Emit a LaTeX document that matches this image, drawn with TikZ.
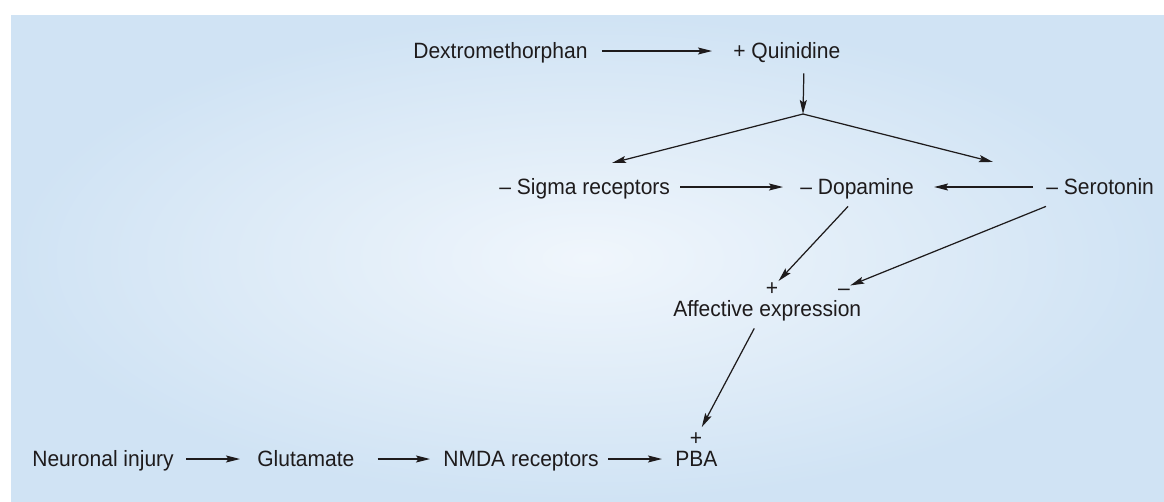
\documentclass[tikz,border=0pt]{standalone}
\usepackage{fontspec}
\setmainfont{Liberation Sans}[FakeStretch=0.95]
\usepackage{tikz}
\usetikzlibrary{arrows.meta, positioning}
\definecolor{mydark}{RGB}{30,27,28}
\definecolor{bgedge}{RGB}{208,227,244}
\definecolor{bgcentre}{RGB}{240,246,252}
\tikzset{
  term/.style={inner sep=0pt, anchor=west, text height=10pt, text depth=2pt,
    font=\fontsize{12.6}{14}\selectfont, text=mydark},
  sign/.style={inner sep=0pt, text height=10pt, text depth=2pt,
    font=\fontsize{12.6}{14}\selectfont, text=mydark},
  arrow/.style={-{Stealth[length=0.28cm, width=0.14cm, inset=0.05cm]},
    line width=0.7pt, color=mydark},
  line/.style={line width=0.7pt, color=mydark}
}

\begin{document}
\begin{tikzpicture}[x=0.02cm, y=-0.02cm]
  \useasboundingbox (0,0) rectangle (1164,501);

  % Background panel
  \shade[inner color=bgcentre, outer color=bgedge] (11,15) rectangle (1164,501);

  % Drug and its targets
  \node[term] (dxm) at (413,51) {Dextromethorphan};
  \node[term] (quin) at (733,51) {+ Quinidine};
  \node[term] (sigma) at (499,187) {– Sigma receptors};
  \node[term] (dopa) at (800,187) {– Dopamine};
  \node[term] (sero) at (1046,187) {– Serotonin};

  % Affective expression
  \node[term] (affect) at (673,309) {Affective expression};
  \node[sign] (plusA) at (772,288) {+};
  \node[sign] (minusA) at (844,288) {–};

  % Injury pathway
  \node[term] (neur) at (32,459) {Neuronal injury};
  \node[term] (glut) at (257,459) {Glutamate};
  \node[term] (nmda) at (443,459) {NMDA receptors};
  \node[term] (pba) at (675,459) {PBA};
  \node[sign] (plusB) at (696,438) {+};

  % Split point
  \coordinate (split) at (803,114);
  \coordinate (toSigma) at (612,163);
  \coordinate (toSero) at (993,162);

  % Connectors
  \draw[arrow, shorten <=0.28cm, shorten >=0.42cm] (dxm.east) -- (quin.west);
  \draw[arrow] ([xshift=0.34cm, yshift=-0.23cm]quin.south) -- (split);
  \draw[arrow] (split) -- (toSigma);
  \draw[arrow] (split) -- (toSero);
  \draw[arrow, shorten <=0.2cm, shorten >=0.34cm] (sigma.east) -- (dopa.west);
  \draw[arrow, shorten <=0.26cm, shorten >=0.4cm] (sero.west) -- (dopa.east);
  \draw[arrow] ([xshift=-0.18cm, yshift=-0.17cm]dopa.south) -- ([xshift=0.38cm, yshift=0.4cm]plusA);
  \draw[arrow] ([yshift=-0.17cm]sero.south west) -- ([xshift=0.58cm, yshift=0.14cm]minusA);
  \draw[arrow] ([xshift=-0.26cm, yshift=-0.17cm]affect.south) -- ([xshift=0.36cm, yshift=0.5cm]plusB);
  \draw[arrow, shorten <=0.24cm, shorten >=0.34cm] (neur.east) -- (glut.west);
  \draw[arrow, shorten <=0.46cm, shorten >=0.26cm] (glut.east) -- (nmda.west);
  \draw[arrow, shorten <=0.18cm, shorten >=0.26cm] (nmda.east) -- (pba.west);

\end{tikzpicture}
\end{document}
